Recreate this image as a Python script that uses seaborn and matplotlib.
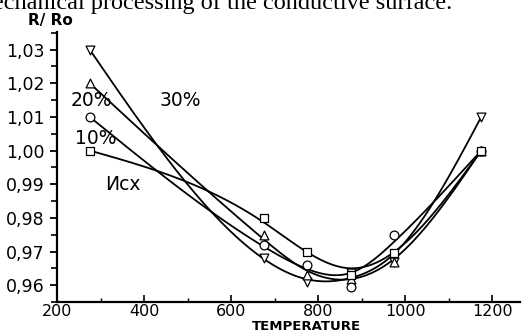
import matplotlib
matplotlib.use("Agg")
import matplotlib.pyplot as plt
import seaborn as sns
import numpy as np
import pandas as pd
from matplotlib.ticker import FixedLocator, MultipleLocator

sns.set_theme(style="ticks")
plt.rcParams['font.family'] = ['DejaVu Sans']

# ---- data ----
temperature = [275, 675, 775, 875, 975, 1175]
r_30 = [1.030, 0.968, 0.961, 0.9637, 0.967, 1.010]
r_20 = [1.020, 0.975, 0.963, 0.9617, 0.967, 1.000]
r_10 = [1.010, 0.972, 0.966, 0.9596, 0.975, 1.000]
r_isx = [1.000, 0.980, 0.970, 0.963, 0.9697, 1.000]
series_names = ["30%", "20%", "10%", "Исх"]
series_markers = ["v", "^", "o", "s"]

y_ticks = [0.96, 0.97, 0.98, 0.99, 1.00, 1.01, 1.02, 1.03]
y_ticklabels = ["0,96", "0,97", "0,98", "0,99", "1,00", "1,01", "1,02", "1,03"]
x_ticks = [200, 400, 600, 800, 1000, 1200]
x_ticklabels = ["200", "400", "600", "800", "1000", "1200"]

title_text = "mechanical processing of the conductive surface."
y_label = "R/ Ro"
x_label = "TEMPERATURE"

# annotation positions (data coords)
annot = {"20%": (278, 1.0150), "30%": (483, 1.0150), "10%": (290, 1.0037), "Исх": (352, 0.9900)}

series_values = [r_30, r_20, r_10, r_isx]


def smoothing_curve(t, v, step=5.0, lam=1500.0, end_w=200.0):
    """Penalised (Whittaker) smoothing curve through the measured points."""
    grid = np.arange(t[0], t[-1] + step / 2, step)
    n = len(grid)
    idx = np.round((t - t[0]) / step).astype(int)
    w = np.zeros(n)
    z = np.zeros(n)
    w[idx] = 1.0
    w[idx[0]] = w[idx[-1]] = end_w
    z[idx] = v
    D = np.diff(np.eye(n), 2, axis=0)
    f = np.linalg.solve(np.diag(w) + lam * D.T @ D, w * z)
    return grid, f


fig = plt.figure(figsize=(5.26, 3.31), dpi=100)
ax = fig.add_axes([57 / 526, 29 / 331, (520 - 57) / 526, (302 - 32) / 331])

t = np.asarray(temperature, dtype=float)
for name, mk, vals in zip(series_names, series_markers, series_values):
    v = np.asarray(vals)
    gx, gy = smoothing_curve(t, v)
    sns.lineplot(x=gx, y=gy, ax=ax, color="black", lw=1.3)
    sns.scatterplot(x=t, y=v, ax=ax, marker=mk, s=40,
                    facecolor="white", edgecolor="black", linewidth=0.9, zorder=3)

ax.set_xlim(200, 1264)
ax.set_ylim(0.955, 1.0352)
ax.set_xlabel("")
ax.set_ylabel("")

ax.yaxis.set_major_locator(FixedLocator(y_ticks))
ax.set_yticklabels(y_ticklabels)
ax.yaxis.set_minor_locator(MultipleLocator(0.005))
ax.xaxis.set_major_locator(FixedLocator(x_ticks))
ax.set_xticklabels(x_ticklabels)
ax.xaxis.set_minor_locator(MultipleLocator(100))

ax.tick_params(axis="y", which="major", direction="out", length=5, width=1.3,
               labelsize=12.5, pad=4, color="black", labelcolor="black")
ax.tick_params(axis="y", which="minor", direction="out", length=4, width=1.2, color="black")
ax.tick_params(axis="x", which="major", direction="in", length=5, width=1.2,
               labelsize=11.5, pad=1.5, color="black", labelcolor="black")
ax.tick_params(axis="x", which="minor", direction="in", length=3, width=1.0, color="black")

sns.despine(ax=ax)
for s in ["left", "bottom"]:
    ax.spines[s].set_linewidth(1.6)
    ax.spines[s].set_color("black")

for txt, (xx, yy) in annot.items():
    ax.text(xx, yy, txt, ha="center", va="center", fontsize=13.5, color="black")

fig.text(50 / 526, 1 - 21 / 331, y_label, ha="center", va="center",
         fontsize=11, fontweight="bold", color="black")
fig.text(306 / 526, 1 - 326 / 331, x_label, ha="center", va="center",
         fontsize=9.5, fontweight="bold", color="black")
fig.text(452 / 526, 1 - 9 / 331, title_text, ha="right", va="baseline",
         fontsize=17.5, family="Liberation Serif", color="black")

fig.savefig("out.png", dpi=100)
